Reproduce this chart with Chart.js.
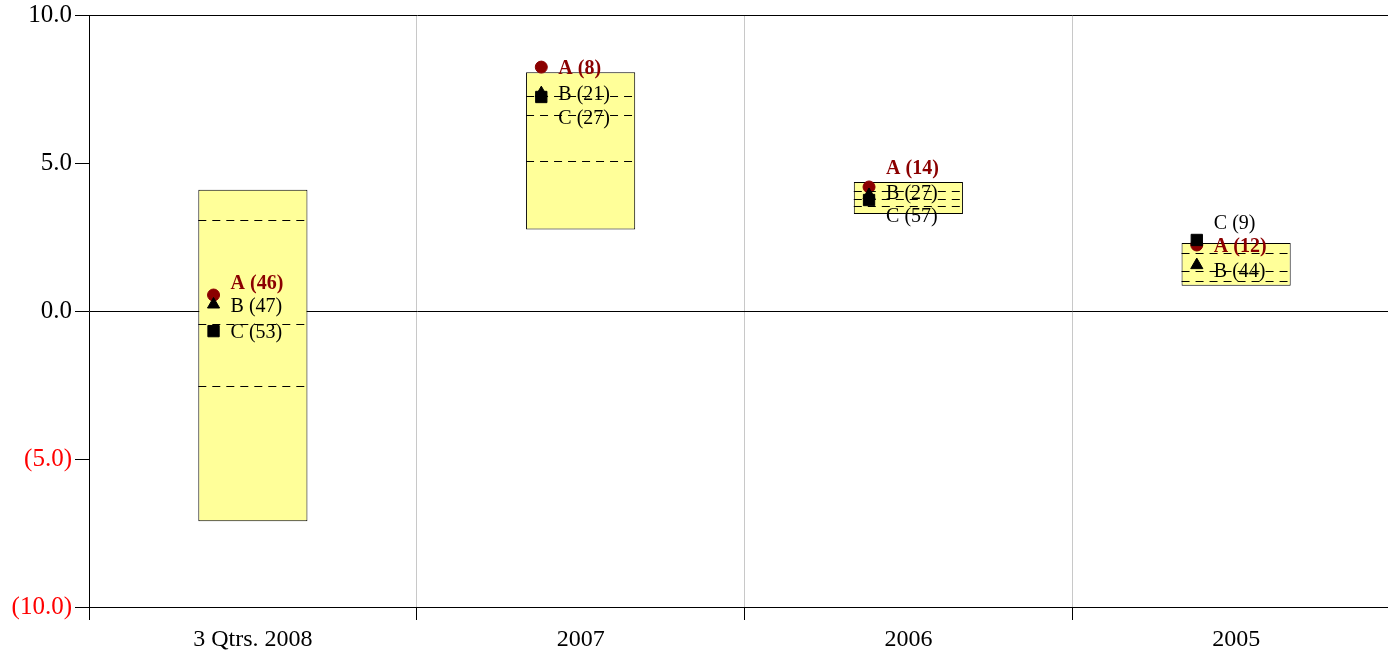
<!DOCTYPE html>
<html><head><meta charset="utf-8">
<script src="https://cdn.jsdelivr.net/npm/chart.js@4"></script>
<style>html,body{margin:0;padding:0;background:#fff;overflow:hidden;width:1388px;height:655px}canvas{display:block}</style>
</head><body>
<canvas id="c" width="1409" height="655"></canvas>
<script>
const categories = ['3 Qtrs. 2008', '2007', '2006', '2005'];
const rangeLow  = [-7.10, 2.75, 3.28, 0.85];
const rangeHigh = [4.10, 8.07, 4.36, 2.30];
const upperQuartile = [3.07, 7.26, 4.05, 1.96];
const medianLine    = [-0.44, 6.62, 3.78, 1.35];
const lowerQuartile = [-2.53, 5.07, 3.55, 1.01];
const seriesA = [0.54, 8.24, 4.19, 2.23];
const seriesB = [0.22, 7.36, 3.92, 1.55];
const seriesC = [-0.68, 7.23, 3.75, 2.40];
const rankA = [46, 8, 14, 12];
const rankB = [47, 21, 27, 44];
const rankC = [53, 27, 57, 9];
const yTicks = [10, 5, 0, -5, -10];

// label vertical nudges (px) to avoid overlaps
const labelNudge = {
  A: [-13, 0, -20, 0],
  B: [0, 0, -3, 5],
  C: [0, 20, 15, -18]
};
const labelBaseShift = 2;
const markerShift = -0.12;
const FONT = '"Liberation Serif", "Times New Roman", serif';

function pts(vals){ return vals.map((v,i)=>({x: i + markerShift, y: v})); }

const dashPlugin = {
  id: 'dashes',
  afterDatasetsDraw(chart){
    const meta = chart.getDatasetMeta(0);
    const y = chart.scales.y;
    const ctx = chart.ctx;
    ctx.save();
    ctx.strokeStyle = '#000';
    ctx.lineWidth = 1;
    ctx.setLineDash([8, 6]);
    meta.data.forEach((bar, i) => {
      const half = bar.width / 2;
      [upperQuartile[i], medianLine[i], lowerQuartile[i]].forEach(v => {
        const py = Math.round(y.getPixelForValue(v)) + 0.5;
        ctx.beginPath();
        ctx.moveTo(bar.x - half, py);
        ctx.lineTo(bar.x + half, py);
        ctx.stroke();
      });
    });
    ctx.restore();
  }
};

const labelPlugin = {
  id: 'ptlabels',
  afterDraw(chart){
    const ctx = chart.ctx;
    ctx.save();
    ctx.textBaseline = 'middle';
    ctx.textAlign = 'left';
    const specs = [
      {ds: 1, name: 'A', ranks: rankA, color: '#8b0000', bold: true},
      {ds: 2, name: 'B', ranks: rankB, color: '#000', bold: false},
      {ds: 3, name: 'C', ranks: rankC, color: '#000', bold: false}
    ];
    specs.forEach(s => {
      const meta = chart.getDatasetMeta(s.ds);
      ctx.fillStyle = s.color;
      ctx.font = (s.bold ? 'bold ' : '') + '20px ' + FONT;
      meta.data.forEach((p, i) => {
        ctx.fillText(s.name + ' (' + s.ranks[i] + ')', p.x + 17, p.y + labelNudge[s.name][i] + labelBaseShift);
      });
    });
    ctx.restore();
  }
};

new Chart(document.getElementById('c'), {
  type: 'bar',
  data: {
    labels: categories,
    datasets: [
      {
        type: 'bar',
        data: rangeLow.map((v,i)=>[v, rangeHigh[i]]),
        backgroundColor: '#ffff99',
        borderColor: '#000',
        borderWidth: 1,
        borderSkipped: false,
        grouped: false,
        barPercentage: 0.333,
        categoryPercentage: 1,
        order: 5
      },
      {
        type: 'scatter', xAxisID: 'xm', data: pts(seriesA),
        pointStyle: 'circle', pointRadius: 6, backgroundColor: '#8b0000', borderColor: '#8b0000', order: 3
      },
      {
        type: 'scatter', xAxisID: 'xm', data: pts(seriesB),
        pointStyle: 'triangle', pointRadius: 7, backgroundColor: '#000', borderColor: '#000', order: 2
      },
      {
        type: 'scatter', xAxisID: 'xm', data: pts(seriesC),
        pointStyle: 'rect', pointRadius: 8, backgroundColor: '#000', borderColor: '#000', order: 1
      }
    ]
  },
  options: {
    responsive: false,
    animation: false,
    layout: {padding: {top: 0, right: 0, left: 0, bottom: 0}},
    plugins: {legend: {display: false}, tooltip: {enabled: false}},
    scales: {
      x: {
        type: 'category',
        grid: {offset: true, color: '#c8c8c8', tickColor: '#000', tickLength: 13, lineWidth: 1},
        border: {color: '#000'},
        ticks: {color: '#000', font: {family: FONT, size: 24}, padding: 5, maxRotation: 0},
        afterFit(s){ s.height = 48; }
      },
      xm: {
        type: 'linear', display: false, min: -0.5, max: 3.5, offset: false,
        grid: {offset: false}
      },
      y: {
        min: -10, max: 10,
        afterBuildTicks(s){ s.ticks = yTicks.map(v=>({value: v})); },
        grid: {
          color: c => (c.tick && (c.tick.value === 0 || c.tick.value === 10)) ? '#000' : 'rgba(0,0,0,0)',
          tickColor: '#000', tickLength: 14
        },
        border: {color: '#000'},
        ticks: {
          font: {family: FONT, size: 25},
          padding: 3,
          color: c => c.tick.value < 0 ? '#ff0000' : '#000',
          callback: v => v < 0 ? '(' + Math.abs(v).toFixed(1) + ')' : v.toFixed(1)
        },
        afterFit(s){ s.width = 89; s.paddingTop = 15; s.paddingBottom = 0; }
      }
    }
  },
  plugins: [dashPlugin, labelPlugin]
});
</script>
</body></html>
